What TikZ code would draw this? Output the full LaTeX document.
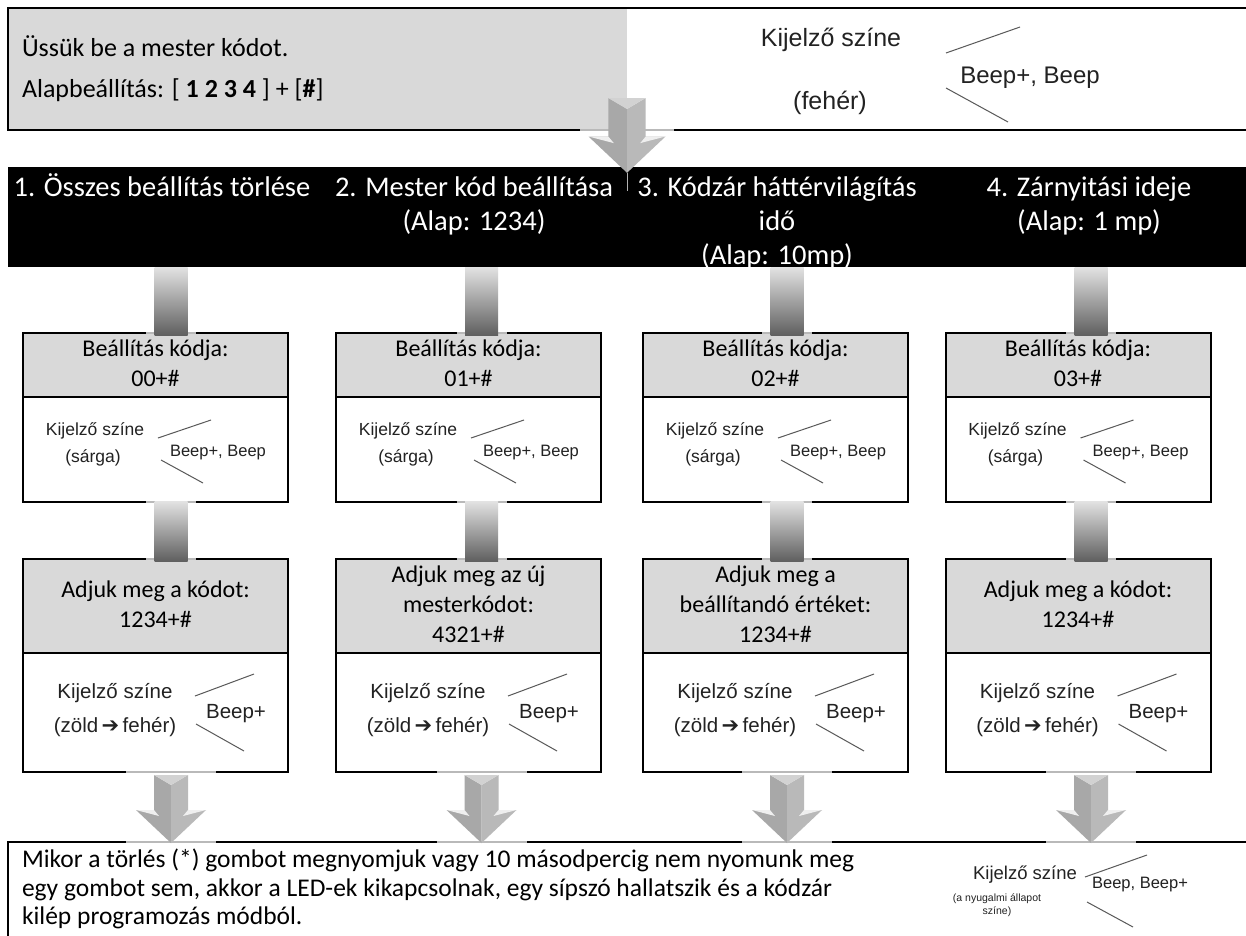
\documentclass[tikz,border=0pt]{standalone}
\usepackage{fontspec}
\setmainfont{Carlito}
\newfontfamily\arialf{Liberation Sans}
\newfontfamily\djv{DejaVu Sans}
\usetikzlibrary{calc}
\definecolor{boxgray}{HTML}{D9D9D9}
\definecolor{arrL}{HTML}{A8A8A8}
\definecolor{arrR}{HTML}{B9B9B9}
\definecolor{arrT}{HTML}{D2D2D2}
\definecolor{arrH}{HTML}{EFEFEF}
\definecolor{txtg}{HTML}{222222}
\tikzset{
  darr/.pic={
    \fill[arrL] (-17,0) -- (0,10) -- (0,68) -- (-35,35) -- (-17,35) -- cycle;
    \fill[arrR] (17,0) -- (0,10) -- (0,68) -- (35,35) -- (17,35) -- cycle;
    \fill[arrT] (-17,0) -- (17,0) -- (0,10) -- cycle;
    \fill[arrH] (-35,35) -- (-17,35) -- (-12,41) -- cycle;
    \fill[arrH] (35,35) -- (17,35) -- (12,41) -- cycle;
  }
}
\newcommand\mycol[5]{%
  \coordinate (c#1) at (#5,0);
  \node[graybox, minimum height=64pt] (k#1) at (#2,365) {Beállítás kódja:\strut\\#3+\#\strut};
  \node[whitebox, minimum height=105pt, anchor=north] (w#1) at (k#1.south) {};
  \node[arsmall] (wa#1) at ($(w#1.north west)+(72,34)$) {Kijelző színe};
  \node[arsmall] (wb#1) at ($(w#1.north west)+(70,61)$) {(sárga)};
  \node[arbeep] (wc#1) at ($(w#1.north west)+(195,56)$) {Beep+, Beep};
  \draw[brace] ($(w#1.north west)+(135,41)$) -- ($(w#1.north west)+(188,23)$);
  \draw[brace] ($(w#1.north west)+(138,63)$) -- ($(w#1.north west)+(180,86)$);
  \node[graybox, minimum height=94pt] (g#1) at (#2,606) {#4};
  \node[whitebox, minimum height=119pt, anchor=north] (v#1) at (g#1.south) {};
  \node[armid] (va#1) at ($(v#1.north west)+(92,40)$) {Kijelző színe};
  \node[armid] (vb#1) at ($(v#1.north west)+(92,74)$) {(zöld\,{\djv\fontsize{21}{24}\selectfont ➔}\,fehér)};
  \node[armid] (vc#1) at ($(v#1.north west)+(213,61)$) {Beep+};
  \draw[brace] ($(v#1.north west)+(172,43)$) -- ($(v#1.north west)+(231,21)$);
  \draw[brace] ($(v#1.north west)+(173,71)$) -- ($(v#1.north west)+(221,98)$);
  % connectors
  \draw[junc] ($(k#1.north -| c#1)+(-25,0)$) -- ($(k#1.north -| c#1)+(25,0)$);
  \shade[conn] ($(bar.south -| c#1)+(-16.5,0)$) rectangle ($(k#1.north -| c#1)+(16.5,2)$);
  \draw[junc] ($(w#1.south -| c#1)+(-25,0)$) -- ($(w#1.south -| c#1)+(25,0)$);
  \draw[junc] ($(g#1.north -| c#1)+(-25,0)$) -- ($(g#1.north -| c#1)+(25,0)$);
  \shade[conn] ($(w#1.south -| c#1)+(-16.5,-1)$) rectangle ($(g#1.north -| c#1)+(16.5,2)$);
  % arrow to bottom
  \draw[junc] ($(v#1.south -| c#1)+(-45,0)$) -- ($(v#1.south -| c#1)+(45,0)$);
  \draw[junc] ($(botline.north -| c#1)+(-45,0)$) -- ($(botline.north -| c#1)+(45,0)$);
  \pic at ($(v#1.south -| c#1)+(0,3)$) {darr};
}
\begin{document}
\begin{tikzpicture}[x=1pt,y=-1pt,
  every node/.style={inner sep=0pt, outer sep=0pt},
  hdrtext/.style={text=white, font=\fontsize{28.5}{34}\selectfont, align=center, anchor=north},
  graybox/.style={draw, line width=2pt, fill=boxgray, minimum width=265pt, font=\fontsize{24}{30}\selectfont, align=center},
  whitebox/.style={draw, line width=2pt, fill=white, minimum width=265pt},
  arsmall/.style={font=\arialf\fontsize{17.5}{20}\selectfont, text=txtg},
  arbeep/.style={font=\arialf\fontsize{16.5}{20}\selectfont, text=txtg},
  armid/.style={font=\arialf\fontsize{20.5}{24}\selectfont, text=txtg},
  arbig/.style={font=\arialf\fontsize{25}{30}\selectfont, text=txtg},
  brace/.style={line width=1pt, draw=black!65},
  junc/.style={line width=2.2pt, draw=gray!55},
  conn/.style={top color=gray!22, bottom color=gray!75!black},
  toptext/.style={font=\fontsize{26}{32}\selectfont},
  bottext/.style={font=\fontsize{25.5}{28.5}\selectfont, align=left}
]
\useasboundingbox (0,0) rectangle (1246,935);
\fill[white] (0,0) rectangle (1246,935);
% black header bar
\node[fill=black, minimum width=1238pt, minimum height=100pt, anchor=north west] (bar) at (8,167) {};
\node[hdrtext] (h1) at (162,173) {1. Összes beállítás törlése\strut};
\node[hdrtext] (h2) at (474,173) {2. Mester kód beállítása\strut\\(Alap: 1234)\strut};
\node[hdrtext] (h3) at (777,173) {3. Kódzár háttérvilágítás\strut\\idő\strut\\(Alap: 10mp)\strut};
\node[hdrtext] (h4) at (1089,173) {4. Zárnyitási ideje\strut\\(Alap: 1 mp)\strut};
\draw[gray!60, line width=1pt] (627,173) -- (627,191);
% top box
\node[fill=boxgray, minimum width=619pt, minimum height=122pt, anchor=north west] (topg) at (8,8) {};
\draw[line width=2.5pt] (1247,8) -- (8,8) -- (8,130) -- (1247,130);
\node[toptext, anchor=base west] (t1) at (22,56) {Üssük be a mester kódot.};
\node[toptext, anchor=base west] (t2) at (22,97) {Alapbeállítás: [ \textbf{1 2 3 4} ] + [\textbf{\#}]};
\node[arbig] (tk) at (831,40) {Kijelző színe};
\node[arbig] (tf) at (830,103) {(fehér)};
\node[arbig, font=\arialf\fontsize{24}{28}\selectfont] (tb) at (1030,78) {Beep+, Beep};
\draw[brace] (946,53) -- (1020,27);
\draw[brace] (946,88) -- (1008,122);
\draw[junc] (580,130) -- (674,130);
\pic[scale=1.1] at (627,98) {darr};
% bottom box
\coordinate (botline) at (8,842);
\draw[line width=2.5pt] (1247,842) -- (8,842) -- (8,940);
\node[bottext, anchor=north west] (bt) at (22,848) {Mikor a törlés (*) gombot megnyomjuk vagy 10 másodpercig nem nyomunk meg\strut\\egy gombot sem, akkor a LED-ek kikapcsolnak, egy sípszó hallatszik és a kódzár\strut\\kilép programozás módból.};
\node[arsmall, font=\arialf\fontsize{18.5}{22}\selectfont] (bk) at (1025,875) {Kijelző színe};
\node[arsmall, font=\arialf\fontsize{10.5}{13}\selectfont, align=center] (bn) at (997,905) {(a nyugalmi állapot\\színe)};
\node[arsmall, font=\arialf\fontsize{16.5}{20}\selectfont] (bb) at (1140,885) {Beep, Beep+};
\draw[brace] (1085,877) -- (1147,855);
\draw[brace] (1087,902) -- (1133,927);
% columns
\mycol{1}{155.5}{00}{Adjuk meg a kódot:\strut\\1234+\#\strut}{171}
\mycol{2}{468.5}{01}{Adjuk meg az új\strut\\mesterkódot:\strut\\4321+\#\strut}{481.5}
\mycol{3}{775.5}{02}{Adjuk meg a\strut\\beállítandó értéket:\strut\\1234+\#\strut}{787}
\mycol{4}{1078}{03}{Adjuk meg a kódot:\strut\\1234+\#\strut}{1091}
\end{tikzpicture}
\end{document}
